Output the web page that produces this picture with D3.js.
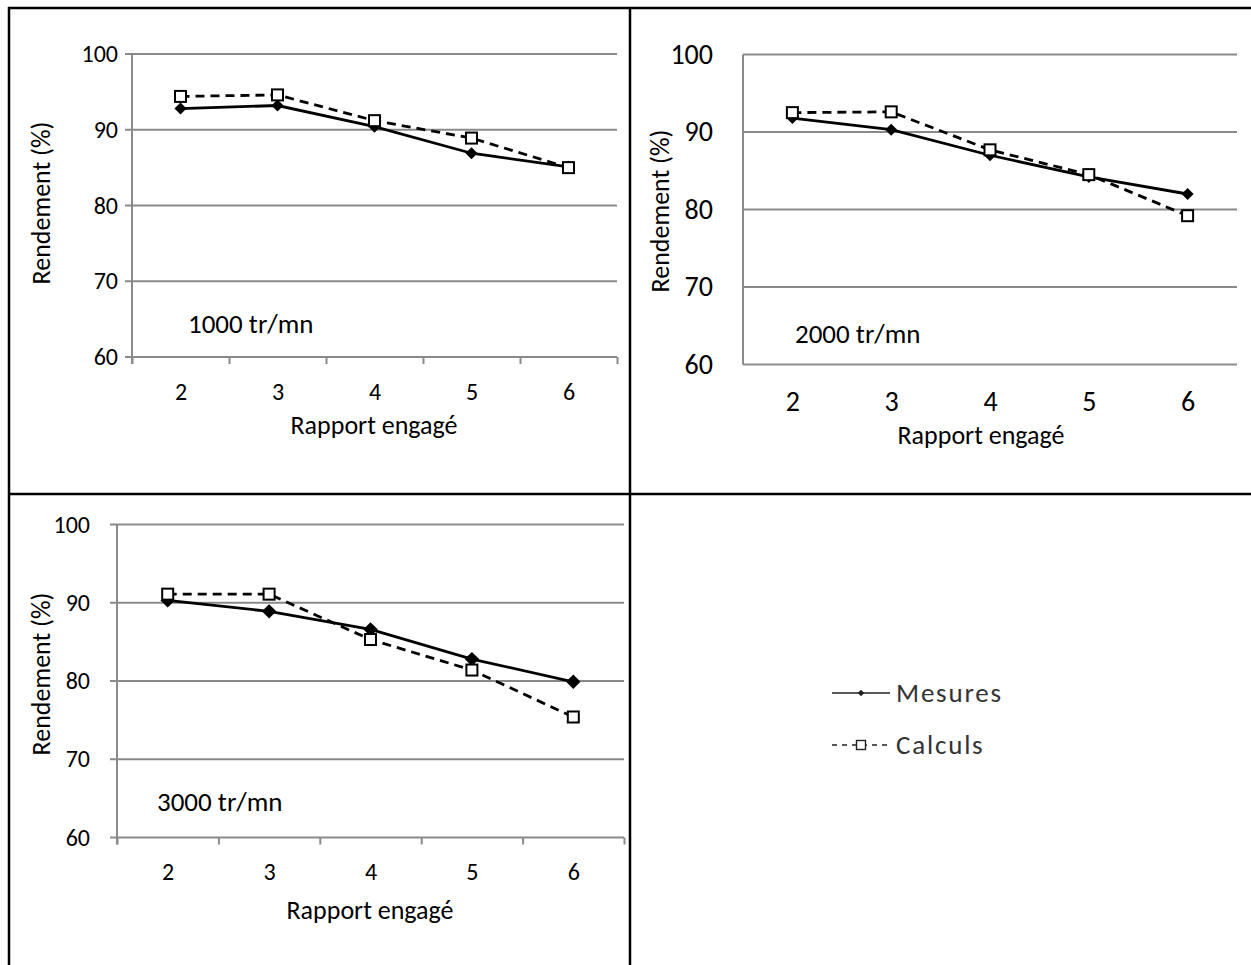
<!DOCTYPE html>
<html>
<head>
<meta charset="utf-8">
<script src="https://cdn.jsdelivr.net/npm/d3@7"></script>
<style>
  html, body { margin: 0; padding: 0; background: #fff; }
  svg { display: block; font-family: Carlito, Calibri, Lato, sans-serif; }
</style>
</head>
<body>
<svg id="chart" width="1251" height="965"></svg>
<script>
// ---- data ----
const categories = [2, 3, 4, 5, 6];
const yTicks = [60, 70, 80, 90, 100];
const seriesNames = ["Mesures", "Calculs"];
const speedLabels = ["1000 tr/mn", "2000 tr/mn", "3000 tr/mn"];
const mesures1000 = [92.8, 93.2, 90.4, 86.9, 85.1];
const calculs1000 = [94.4, 94.6, 91.2, 88.9, 85.0];
const mesures2000 = [91.8, 90.3, 87.0, 84.2, 82.0];
const calculs2000 = [92.5, 92.6, 87.7, 84.5, 79.2];
const mesures3000 = [90.3, 88.9, 86.6, 82.8, 79.9];
const calculs3000 = [91.1, 91.1, 85.3, 81.4, 75.4];
const xTitle = "Rapport engagé";
const yTitle = "Rendement (%)";

// ---- layout ----
const panels = [
  { label: speedLabels[0], mes: mesures1000, cal: calculs1000,
    left: 132, right: 617, top: 54, bottom: 357, ticks: true,
    tickFont: 24, titleFont: 26, annFont: 27, yLabelGap: 14, xLabelDy: 35,
    yTitleX: 42, yTitleY: 203, xTitleX: 374, xTitleY: 426, annX: 188, annY: 333, mk: 1 },
  { label: speedLabels[1], mes: mesures2000, cal: calculs2000,
    left: 743, right: 1237, top: 54.5, bottom: 364.5, ticks: false,
    tickFont: 28, titleFont: 26, annFont: 27, yLabelGap: 30, xLabelDy: 38,
    yTitleX: 661, yTitleY: 211, xTitleX: 981, xTitleY: 436, annX: 795, annY: 343, mk: 1 },
  { label: speedLabels[2], mes: mesures3000, cal: calculs3000,
    left: 117, right: 624, top: 524.5, bottom: 837.5, ticks: true,
    tickFont: 24, titleFont: 26, annFont: 27, yLabelGap: 27, xLabelDy: 35,
    yTitleX: 42, yTitleY: 674, xTitleX: 370, xTitleY: 911, annX: 157, annY: 811, mk: 1.2 }
];

const svg = d3.select("#chart");
svg.append("rect").attr("width", 1251).attr("height", 965).attr("fill", "#fff");

const gridColor = "#8a8a8a";
const fontFam = "Carlito, Calibri, Lato, sans-serif";

function diamond(r) {
  return `M0,${-r}L${r},0L0,${r}L${-r},0Z`;
}

panels.forEach(p => {
  const g = svg.append("g");
  const x = d3.scaleLinear()
    .domain([categories[0] - 0.5, categories[categories.length - 1] + 0.5])
    .range([p.left, p.right]);
  const y = d3.scaleLinear().domain([60, 100]).range([p.bottom, p.top]);

  // gridlines
  g.append("g").selectAll("line").data(yTicks).join("line")
    .attr("x1", p.ticks ? p.left - 7 : p.left).attr("x2", p.right)
    .attr("y1", d => y(d)).attr("y2", d => y(d))
    .attr("stroke", gridColor).attr("stroke-width", 2);

  // y axis line
  g.append("line").attr("x1", p.left).attr("x2", p.left)
    .attr("y1", p.top).attr("y2", p.bottom + (p.ticks ? 7 : 0))
    .attr("stroke", gridColor).attr("stroke-width", 2);

  // x boundary tick marks
  if (p.ticks) {
    const bounds = categories.map(c => c - 0.5).concat([categories[categories.length - 1] + 0.5]);
    const ax = d3.axisBottom(x).tickValues(bounds).tickFormat("").tickSize(7).tickSizeOuter(0);
    const axg = g.append("g").attr("transform", `translate(0,${p.bottom})`).call(ax);
    axg.select(".domain").remove();
    axg.selectAll("line").attr("stroke", gridColor).attr("stroke-width", 2);
  }

  // y tick labels
  const ya = d3.axisLeft(y).tickValues(yTicks).tickSize(0).tickPadding(p.yLabelGap)
    .tickFormat(d3.format("d"));
  const yg = g.append("g").attr("transform", `translate(${p.left},0)`).call(ya);
  yg.select(".domain").remove();
  yg.selectAll("text").attr("font-size", p.tickFont).attr("fill", "#000")
    .attr("font-family", fontFam);

  // x tick labels
  const xa = d3.axisBottom(x).tickValues(categories).tickSize(0).tickPadding(0)
    .tickFormat(d3.format("d"));
  const xg = g.append("g").attr("transform", `translate(0,${p.bottom + p.xLabelDy})`).call(xa);
  xg.select(".domain").remove();
  xg.selectAll("text").attr("font-size", p.tickFont).attr("fill", "#000")
    .attr("dy", "0.32em").attr("y", 0)
    .attr("font-family", fontFam);

  // titles
  g.append("text").attr("x", p.xTitleX).attr("y", p.xTitleY)
    .attr("text-anchor", "middle").attr("dy", "0.32em")
    .attr("font-size", p.titleFont).text(xTitle);
  g.append("text")
    .attr("transform", `translate(${p.yTitleX},${p.yTitleY}) rotate(-90)`)
    .attr("text-anchor", "middle").attr("dy", "0.32em")
    .attr("font-size", p.titleFont).text(yTitle);

  // annotation
  g.append("text").attr("x", p.annX).attr("y", p.annY)
    .attr("font-size", p.annFont).text(p.label);

  // lines
  const line = d3.line().x((d, i) => x(categories[i])).y(d => y(d));
  g.append("path").datum(p.cal).attr("d", line).attr("fill", "none")
    .attr("stroke", "#000").attr("stroke-width", 2.8).attr("stroke-dasharray", "9,6");
  g.append("path").datum(p.mes).attr("d", line).attr("fill", "none")
    .attr("stroke", "#000").attr("stroke-width", 2.8);

  // markers
  g.append("g").selectAll("path").data(p.mes).join("path")
    .attr("transform", (d, i) => `translate(${x(categories[i])},${y(d)})`)
    .attr("d", diamond(6 * p.mk)).attr("fill", "#000");
  g.append("g").selectAll("rect").data(p.cal).join("rect")
    .attr("x", (d, i) => x(categories[i]) - 5.5).attr("y", d => y(d) - 5.5)
    .attr("width", 11).attr("height", 11)
    .attr("fill", "#fff").attr("stroke", "#000").attr("stroke-width", 2);
});

// legend
const leg = svg.append("g");
const legRows = [
  { name: seriesNames[0], y: 693, dash: null },
  { name: seriesNames[1], y: 745, dash: "5,5" }
];
legRows.forEach((r, i) => {
  leg.append("line").attr("x1", 832).attr("x2", 890).attr("y1", r.y).attr("y2", r.y)
    .attr("stroke", "#222").attr("stroke-width", 1.6)
    .attr("stroke-dasharray", r.dash);
  if (i === 0) {
    leg.append("path").attr("transform", `translate(861,${r.y})`)
      .attr("d", diamond(3.3)).attr("fill", "#222");
  } else {
    leg.append("rect").attr("x", 856.5).attr("y", r.y - 4.5).attr("width", 9).attr("height", 9)
      .attr("fill", "#fff").attr("stroke", "#222").attr("stroke-width", 1.4);
  }
  leg.append("text").attr("x", 896).attr("y", r.y).attr("dy", "0.35em")
    .attr("font-size", 27).attr("letter-spacing", 1.8).attr("fill", "#333").text(r.name);
});

// frame
const frame = svg.append("g").attr("stroke", "#000").attr("stroke-width", 2.5);
frame.append("line").attr("x1", 9).attr("x2", 9).attr("y1", 7).attr("y2", 965);
frame.append("line").attr("x1", 8).attr("x2", 1251).attr("y1", 8).attr("y2", 8);
frame.append("line").attr("x1", 630).attr("x2", 630).attr("y1", 8).attr("y2", 965);
frame.append("line").attr("x1", 8).attr("x2", 1251).attr("y1", 494).attr("y2", 494);
</script>
</body>
</html>
